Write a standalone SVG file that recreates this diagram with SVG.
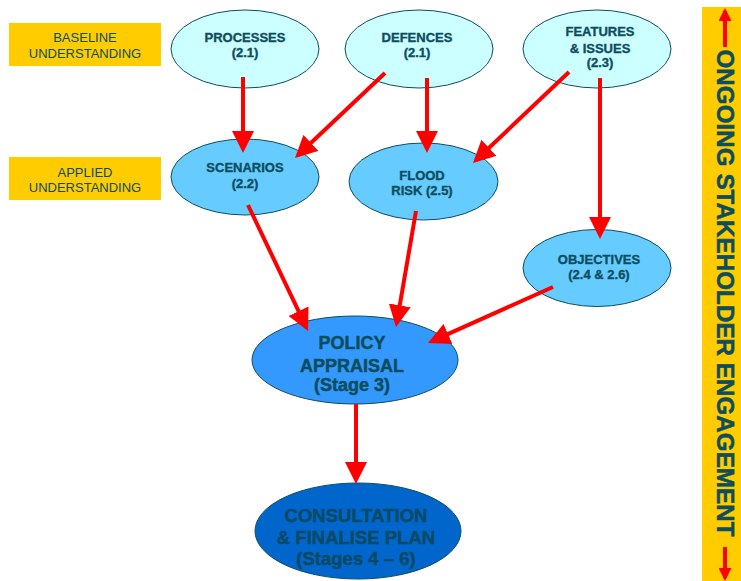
<svg xmlns="http://www.w3.org/2000/svg" width="741" height="581" viewBox="0 0 741 581">
<style>
.lbl{fill:#ffcc00}
.lt{font-family:"Liberation Sans",Arial,sans-serif;font-size:13px;fill:#0d4d5e;text-anchor:middle}
.nt{font-family:"Liberation Sans",Arial,sans-serif;font-size:13px;font-weight:bold;fill:#0d4d5e;stroke:#0d4d5e;stroke-width:0.35;text-anchor:middle}
.bt{font-family:"Liberation Sans",Arial,sans-serif;font-size:18px;font-weight:bold;fill:#0d4d5e;stroke:#0d4d5e;stroke-width:0.45;text-anchor:middle}
.ct{font-family:"Liberation Sans",Arial,sans-serif;font-size:18.5px;font-weight:bold;fill:#0a4a66;stroke:#0a4a66;stroke-width:0.45;text-anchor:middle}
.el{stroke:#0d4d5e;stroke-width:1}
.c1{fill:#ccffff}.c2{fill:#66ccff}.c3{fill:#3399ff}.c4{fill:#0066cc}
.ar{stroke:#ff0000;stroke-width:4;fill:none;marker-end:url(#ah)}
</style>
<defs>
<marker id="ah" markerUnits="userSpaceOnUse" markerWidth="22" markerHeight="22" refX="18" refY="11" orient="auto">
<path d="M0,0 L22,11 L0,22 Z" fill="#ff0000"/>
</marker>
<marker id="sh" markerUnits="userSpaceOnUse" markerWidth="13" markerHeight="13" refX="10" refY="6.5" orient="auto">
<path d="M0,0 L13,6.5 L0,13 Z" fill="#ff0000"/>
</marker>
</defs>
<rect width="741" height="581" fill="#ffffff"/>
<g id="baseline">
<rect class="lbl" x="9" y="23" width="152" height="43"/>
<text class="lt" x="85" y="42">BASELINE</text>
<text class="lt" x="85" y="58">UNDERSTANDING</text>
</g>
<g id="applied">
<rect class="lbl" x="9" y="157" width="152" height="43"/>
<text class="lt" x="85" y="177">APPLIED</text>
<text class="lt" x="85" y="192">UNDERSTANDING</text>
</g>
<g id="processes">
<ellipse class="el c1" cx="245" cy="49" rx="74" ry="39"/>
<text class="nt" x="245" y="41.5">PROCESSES</text>
<text class="nt" x="245" y="57">(2.1)</text>
</g>
<g id="defences">
<ellipse class="el c1" cx="419" cy="49" rx="74" ry="39"/>
<text class="nt" x="417" y="41.5">DEFENCES</text>
<text class="nt" x="417" y="57">(2.1)</text>
</g>
<g id="features">
<ellipse class="el c1" cx="597" cy="49" rx="74" ry="39"/>
<text class="nt" x="600" y="36">FEATURES</text>
<text class="nt" x="600" y="53">&amp; ISSUES</text>
<text class="nt" x="600" y="67">(2.3)</text>
</g>
<g id="scenarios">
<ellipse class="el c2" cx="245" cy="177" rx="74" ry="38"/>
<text class="nt" x="245" y="172">SCENARIOS</text>
<text class="nt" x="245" y="188">(2.2)</text>
</g>
<g id="flood">
<ellipse class="el c2" cx="423.5" cy="181.5" rx="74.5" ry="38.5"/>
<text class="nt" x="422" y="180">FLOOD</text>
<text class="nt" x="422" y="195">RISK (2.5)</text>
</g>
<g id="objectives">
<ellipse class="el c2" cx="597" cy="268" rx="74" ry="38.5"/>
<text class="nt" x="599" y="264">OBJECTIVES</text>
<text class="nt" x="599" y="279">(2.4 &amp; 2.6)</text>
</g>
<g id="policy">
<ellipse class="el c3" cx="355" cy="360" rx="103" ry="44"/>
<text class="bt" x="352" y="349">POLICY</text>
<text class="bt" x="352" y="372">APPRAISAL</text>
<text class="bt" x="352" y="391">(Stage 3)</text>
</g>
<g id="consultation">
<ellipse class="el c4" cx="358" cy="531" rx="103" ry="48"/>
<text class="ct" x="356" y="522">CONSULTATION</text>
<text class="ct" x="356" y="544">&amp; FINALISE PLAN</text>
<text class="ct" x="356" y="565">(Stages 4 – 6)</text>
</g>
<g id="engagement">
<rect class="lbl" x="702" y="7" width="39" height="574"/>
<text transform="translate(717,293) rotate(90)" x="0" y="0" font-family="'Liberation Sans',Arial,sans-serif" font-size="24" font-weight="bold" fill="#0d4d5e" stroke="#0d4d5e" stroke-width="0.5" text-anchor="middle" textLength="487" lengthAdjust="spacingAndGlyphs">ONGOING STAKEHOLDER ENGAGEMENT</text>
</g>
<g id="connectors">
<line class="ar" x1="243" y1="77" x2="243" y2="149"/>
<line class="ar" x1="385" y1="73" x2="297.9" y2="155.3"/>
<line class="ar" x1="427" y1="78" x2="427" y2="149"/>
<line class="ar" x1="569" y1="72" x2="475.9" y2="160.2"/>
<line class="ar" x1="600" y1="78" x2="600" y2="235"/>
<line class="ar" x1="248" y1="205" x2="306.3" y2="327.4"/>
<line class="ar" x1="416" y1="211" x2="396.7" y2="323.1"/>
<line class="ar" x1="553" y1="287" x2="431.6" y2="341.4"/>
<line class="ar" x1="356" y1="404" x2="356" y2="480"/>
<line stroke="#ff0000" stroke-width="4" marker-end="url(#sh)" x1="725" y1="47" x2="725" y2="11"/>
<line stroke="#ff0000" stroke-width="4" marker-end="url(#sh)" x1="725" y1="547" x2="725" y2="578"/>
</g>
</svg>
